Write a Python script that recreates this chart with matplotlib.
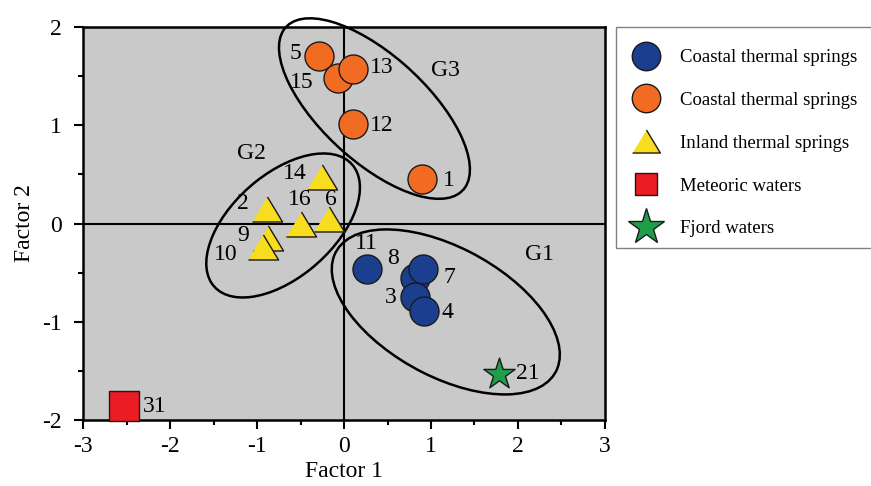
import matplotlib
matplotlib.use("Agg")
import matplotlib.pyplot as plt
from matplotlib.lines import Line2D
from matplotlib.patches import Ellipse, Rectangle
from matplotlib.ticker import MultipleLocator

plt.rcParams['font.family'] = ['Liberation Serif', 'DejaVu Serif']
plt.rcParams['axes.unicode_minus'] = False  # plain hyphen for negative ticks

# factor scores per sample group
g1_ids = ['11', '8', '7', '3', '4']
g1_f1 = [0.26, 0.82, 0.91, 0.82, 0.92]
g1_f2 = [-0.46, -0.55, -0.46, -0.75, -0.89]

g3_ids = ['5', '15', '13', '12', '1']
g3_f1 = [-0.29, -0.07, 0.10, 0.10, 0.90]
g3_f2 = [1.70, 1.48, 1.57, 1.01, 0.45]

g2_ids = ['14', '2', '16', '6', '9', '10']
g2_f1 = [-0.25, -0.89, -0.49, -0.17, -0.87, -0.93]
g2_f2 = [0.47, 0.15, 0.00, 0.05, -0.15, -0.24]

met_ids = ['31']
met_f1 = [-2.53]
met_f2 = [-1.86]

fjord_ids = ['21']
fjord_f1 = [1.78]
fjord_f2 = [-1.53]

legend_labels = ['Coastal thermal springs', 'Coastal thermal springs',
                 'Inland thermal springs', 'Meteoric waters', 'Fjord waters']

# label offsets in points (dx, dy)
offsets = {
    '11': (0, 18), '8': (-16, 14), '7': (19, -6), '3': (-18, 0), '4': (17, -1),
    '5': (-17, 2), '15': (-26, -3), '13': (21, 1), '12': (21, -1), '1': (19, -1),
    '14': (-20, 3), '2': (-17, 4), '16': (-1, 17), '6': (1, 14), '9': (-18, 2),
    '10': (-27, -5), '31': (22, 0), '21': (21, 0),
}

BLUE = '#1b3f8e'
ORANGE = '#f26b22'
YELLOW = '#f8dc1e'
RED = '#ec1c24'
GREEN = '#1f9e4a'

tri = [(-1, -0.83), (1, -0.83), (0, 0.83)]

fig = plt.figure(figsize=(8.71, 4.86), dpi=100)
ax = fig.add_axes([0.0953, 0.1358, 0.5993, 0.8086])
ax.set_facecolor('#c8c9c8')

ax.axhline(0, color='black', lw=1.5, zorder=1)
ax.axvline(0, color='black', lw=1.5, zorder=1)

# group outlines
for (cx, cy), w, h, ang in [((1.17, -0.90), 2.81, 1.34, -24.2),
                            ((-0.70, -0.02), 2.02, 1.09, 35.2),
                            ((0.35, 1.17), 2.63, 1.13, -37.6)]:
    ax.add_patch(Ellipse((cx, cy), w, h, angle=ang, fill=False,
                         edgecolor='black', lw=1.8, clip_on=False, zorder=2))

ax.text(2.25, -0.32, 'G1', fontsize=17, ha='center', va='center')
ax.text(-1.06, 0.71, 'G2', fontsize=17, ha='center', va='center')
ax.text(1.17, 1.56, 'G3', fontsize=17, ha='center', va='center')

series = [
    (g1_ids, g1_f1, g1_f2, 'o', BLUE, 436),
    (g3_ids, g3_f1, g3_f2, 'o', ORANGE, 436),
    (g2_ids, g2_f1, g2_f2, tri, YELLOW, 470),
    (met_ids, met_f1, met_f2, 's', RED, 466),
    (fjord_ids, fjord_f1, fjord_f2, '*', GREEN, 560),
]
for ids, xs, ys, mk, col, size in series:
    for i, x, y in zip(ids, xs, ys):
        ax.scatter(x, y, s=size, marker=mk, facecolor=col, edgecolor='#1a1a1a',
                   linewidth=1.0, zorder=3, clip_on=False)
        ax.annotate(i, (x, y), xytext=offsets[i], textcoords='offset points',
                    ha='center', va='center', fontsize=17, zorder=4)

ax.set_xlim(-3, 3)
ax.set_ylim(-2, 2)
ax.xaxis.set_major_locator(MultipleLocator(1))
ax.xaxis.set_minor_locator(MultipleLocator(0.5))
ax.yaxis.set_major_locator(MultipleLocator(1))
ax.yaxis.set_minor_locator(MultipleLocator(0.5))
ax.tick_params(which='major', direction='out', length=6.5, width=1.5,
               labelsize=17, pad=5)
ax.tick_params(axis='y', which='major', pad=9)
ax.tick_params(which='minor', direction='out', length=3.6, width=1.5)
for sp in ax.spines.values():
    sp.set_linewidth(1.8)

ax.set_xlabel('Factor 1', fontsize=17, labelpad=3)
ax.set_ylabel('Factor 2', fontsize=17, labelpad=5)

# legend box drawn separately so its size can be set exactly
fig.patches.append(Rectangle((616 / 871, 1 - 248 / 486), 260 / 871, 221 / 486,
                             transform=fig.transFigure, fill=False,
                             edgecolor='#808080', lw=1.0))

handles = [
    Line2D([], [], ls='none', marker='o', ms=20.5, mfc=BLUE, mec='#1a1a1a'),
    Line2D([], [], ls='none', marker='o', ms=20.5, mfc=ORANGE, mec='#1a1a1a'),
    Line2D([], [], ls='none', marker=tri, ms=20, mfc=YELLOW, mec='#1a1a1a'),
    Line2D([], [], ls='none', marker='s', ms=16.5, mfc=RED, mec='#1a1a1a'),
    Line2D([], [], ls='none', marker='*', ms=27, mfc=GREEN, mec='#1a1a1a'),
]
fig.legend(handles, legend_labels, loc='upper left',
           bbox_to_anchor=(631 / 871, 1 - 49 / 486), fontsize=13.5,
           frameon=False, borderpad=0, labelspacing=1.37,
           handlelength=1.6, handletextpad=1.0, borderaxespad=0)

fig.savefig('out.png', dpi=100)
